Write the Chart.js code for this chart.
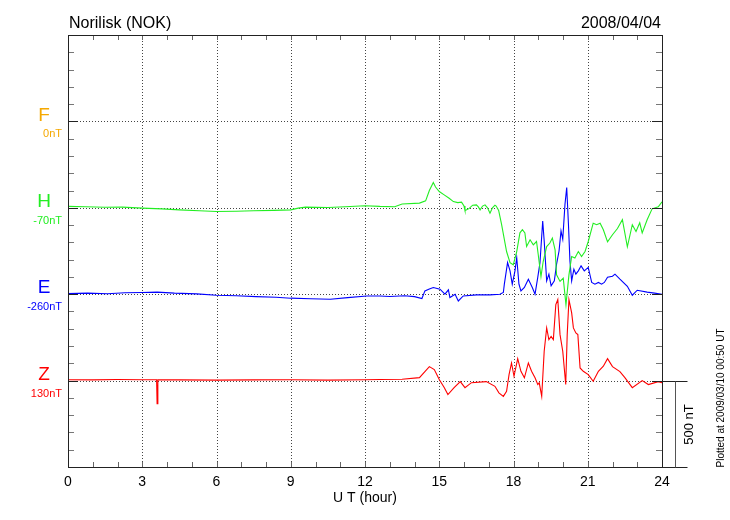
<!DOCTYPE html>
<html><head><meta charset="utf-8">
<script src="https://cdn.jsdelivr.net/npm/chart.js@4.4.0/dist/chart.umd.min.js"></script>
<style>html,body{margin:0;padding:0;background:#fff;}canvas{display:block;}</style>
</head><body>
<canvas id="c" width="730" height="520"></canvas>
<script>
// ---- text / categories ----
const station = 'Norilisk (NOK)';
const dateLabel = '2008/04/04';
const plottedNote = 'Plotted at 2009/03/10 00:50 UT';
const xTitle = 'U T (hour)';
const components = ['F', 'H', 'E', 'Z'];
const baseValues = ['0nT', '-70nT', '-260nT', '130nT'];
const xTickValues = [0, 3, 6, 9, 12, 15, 18, 21, 24];
const scaleBarNT = 500;

// ---- H component: hours, deviation from base (nT) ----
const tH = [0,0.7,1.5,2.2,3,3.8,4.5,5.3,6,6.8,7.5,8.3,9,9.3,9.6,10.5,11.2,12,12.6,13.2,13.5,14.2,14.45,14.6,14.76,14.85,15.0,15.2,15.4,15.57,15.75,15.9,16.0,16.04,16.2,16.35,16.5,16.58,16.65,16.75,16.85,16.95,17.05,17.15,17.25,17.3,17.4,17.52,17.72,17.86,17.99,18.13,18.26,18.36,18.46,18.53,18.67,18.8,18.93,19.0,19.11,19.2,19.34,19.47,19.57,19.68,19.74,19.88,20.01,20.12,20.24,20.35,20.48,20.62,20.75,20.89,21.02,21.22,21.36,21.5,21.63,21.8,22.0,22.2,22.4,22.6,22.8,22.95,23.1,23.2,23.4,23.6,23.85,24];
const vH = [8,6,3,4,-2,-6,-12,-17,-21,-20,-17,-15,-12,-2,4,2,6,12,8,6,22,27,40,100,146,120,94,75,55,36,30,33,10,-16,-5,15,17,5,-12,10,17,0,-31,0,15,10,-15,-98,-253,-318,-330,-253,-145,-127,-145,-224,-185,-214,-195,-272,-398,-311,-224,-204,-175,-243,-388,-426,-407,-561,-388,-282,-291,-253,-282,-253,-195,-89,-98,-89,-127,-197,-156,-120,-69,-226,-98,-137,-87,-145,-69,-6,6,35];

// ---- E component ----
const tE = [0,0.8,1.6,2.3,3,3.6,4.3,5.2,6,6.8,7.6,8.4,9,9.8,10.6,11.3,12.07,12.6,13.0,13.6,14.0,14.3,14.42,14.6,14.76,15.03,15.23,15.37,15.43,15.64,15.77,15.97,16.51,17.05,17.45,17.59,17.63,17.76,17.86,17.95,18.06,18.13,18.22,18.3,18.44,18.6,18.76,18.87,18.98,19.07,19.18,19.24,19.34,19.43,19.52,19.65,19.74,19.84,19.92,19.99,20.08,20.15,20.22,20.28,20.35,20.44,20.52,20.62,20.73,20.86,21.02,21.16,21.29,21.43,21.56,21.67,21.8,22.0,22.1,22.3,22.6,22.8,23.0,23.4,23.7,24];
const vE = [4,6,3,8,10,12,6,2,-6,-9,-14,-18,-23,-26,-29,-20,-10,-10,-13,-9,-14,-25,19,30,39,29,0,25,-19,0,-39,-10,-4,-4,0,10,58,183,135,58,135,212,58,19,39,87,39,0,97,183,424,308,77,116,48,77,174,250,366,318,521,617,405,193,77,145,116,135,164,135,155,68,58,68,58,68,98,104,116,87,46,-6,23,12,6,0];

// ---- Z component ----
const tZ = [0,1,2,3,3.58,3.6,3.63,4.5,6,7.5,9,10.5,12,12.6,13.5,14.2,14.6,14.8,15.0,15.2,15.35,15.6,15.85,16.04,16.3,16.9,17.25,17.41,17.59,17.72,17.82,17.92,18.02,18.17,18.3,18.44,18.6,18.73,18.87,18.98,19.04,19.14,19.24,19.34,19.43,19.52,19.61,19.71,19.79,19.88,19.99,20.11,20.17,20.24,20.35,20.42,20.52,20.6,20.69,20.82,21.02,21.22,21.43,21.63,21.8,22.0,22.3,22.5,22.8,23.2,23.45,23.85,24];
const vZ = [5,4,6,5,5,-133,5,4,3,4,5,3,5,6,8,17,81,64,6,-40,-81,-41,-6,-41,-12,-6,-33,-71,-91,-62,35,102,25,127,54,16,102,54,16,-23,-13,-91,170,305,237,256,237,440,469,266,170,-23,266,469,392,305,276,266,73,54,35,-4,54,83,127,81,52,17,-41,0,-23,-6,-12];

// ---- drawing constants ----
const OFFSET = {F: 2000, H: 1500, E: 1000, Z: 500};
const COLOR = {F: '#f5a800', H: '#22ee22', E: '#0000ff', Z: '#ff0000'};
const FONT = '"Liberation Sans", Arial, Helvetica, sans-serif';

function pts(t, v, off) { return t.map((x, i) => ({x: x, y: off + v[i]})); }

function seg(ctx, x1, y1, x2, y2) { ctx.beginPath(); ctx.moveTo(x1, y1); ctx.lineTo(x2, y2); ctx.stroke(); }

const deco = {
  id: 'deco',
  beforeDatasetsDraw(chart) {
    const {ctx, chartArea: a, scales: {x, y}} = chart;
    ctx.save();
    ctx.strokeStyle = '#444';
    ctx.lineWidth = 1;
    ctx.setLineDash([1, 2]);
    xTickValues.forEach(h => {
      if (h === 0 || h === 24) return;
      const px = Math.round(x.getPixelForValue(h)) + 0.5;
      seg(ctx, px, a.top, px, a.bottom);
    });
    components.forEach(c => {
      const py = Math.round(y.getPixelForValue(OFFSET[c])) + 0.5;
      seg(ctx, a.left, py, a.right, py);
    });
    ctx.restore();
  },
  afterDatasetsDraw(chart) {
    const {ctx, chartArea: a, scales: {x, y}} = chart;
    ctx.save();
    ctx.setLineDash([]);
    ctx.lineWidth = 1;
    ctx.strokeStyle = '#666';
    for (let h = 0; h <= 24; h++) {
      const px = Math.round(x.getPixelForValue(h)) + 0.5;
      seg(ctx, px, a.top, px, a.top + 5);
      seg(ctx, px, a.bottom, px, a.bottom - 5);
    }
    for (let v = 0; v <= 2500; v += 100) {
      const py = Math.round(y.getPixelForValue(v)) + 0.5;
      const major = (v % 500 === 0);
      ctx.strokeStyle = major ? '#222' : '#777';
      seg(ctx, a.left, py, a.left + (major ? 10 : 6), py);
      seg(ctx, a.right, py, a.right - (major ? 10 : 6), py);
    }
    ctx.strokeStyle = '#222';
    const L = Math.round(a.left) + 0.5, R = Math.round(a.right) + 0.5;
    const T = Math.round(a.top) + 0.5, B = Math.round(a.bottom) + 0.5;
    ctx.strokeRect(L, T, R - L, B - T);
    const yTop = Math.round(y.getPixelForValue(scaleBarNT)) + 0.5;
    const yBot = Math.round(y.getPixelForValue(0)) + 0.5;
    seg(ctx, R, yTop, R + 25, yTop);
    seg(ctx, R, yBot, R + 25, yBot);
    ctx.strokeStyle = '#555';
    seg(ctx, R + 13, yTop, R + 13, yBot);
    ctx.fillStyle = '#000';
    ctx.font = '13px ' + FONT;
    ctx.textAlign = 'center'; ctx.textBaseline = 'middle';
    ctx.save();
    ctx.translate(R + 27, (yTop + yBot) / 2);
    ctx.rotate(-Math.PI / 2);
    ctx.fillText(scaleBarNT + ' nT', 0, 0);
    ctx.restore();
    ctx.save();
    ctx.font = '10px ' + FONT;
    ctx.translate(721, 398);
    ctx.rotate(-Math.PI / 2);
    ctx.fillText(plottedNote, 0, 0);
    ctx.restore();
    components.forEach((c, i) => {
      const py = y.getPixelForValue(OFFSET[c]);
      ctx.fillStyle = COLOR[c];
      ctx.textAlign = 'center'; ctx.textBaseline = 'middle';
      ctx.font = '19px ' + FONT;
      ctx.fillText(c, 44, py - 6);
      ctx.textAlign = 'right';
      ctx.font = '11px ' + FONT;
      ctx.fillText(baseValues[i], 62, py + 13);
    });
    ctx.fillStyle = '#000';
    ctx.textBaseline = 'alphabetic';
    ctx.font = '16px ' + FONT;
    ctx.textAlign = 'left';
    ctx.fillText(station, 69, 28);
    ctx.textAlign = 'right';
    ctx.fillText(dateLabel, 661, 28);
    ctx.textAlign = 'center';
    ctx.font = '14px ' + FONT;
    ctx.fillText(xTitle, (a.left + a.right) / 2, 502);
    ctx.restore();
  }
};

const ds = (c, t, v) => ({
  label: c,
  data: pts(t, v, OFFSET[c]),
  borderColor: COLOR[c],
  borderWidth: 1.1,
  pointRadius: 0,
  tension: 0,
  fill: false
});

new Chart(document.getElementById('c'), {
  type: 'line',
  data: { datasets: [ds('H', tH, vH), ds('E', tE, vE), ds('Z', tZ, vZ)] },
  options: {
    responsive: false,
    animation: false,
    devicePixelRatio: 1,
    layout: { padding: { left: 68, right: 68, top: 35, bottom: 0 } },
    plugins: { legend: { display: false }, tooltip: { enabled: false } },
    scales: {
      x: {
        type: 'linear', min: 0, max: 24,
        afterBuildTicks: s => { s.ticks = xTickValues.map(v => ({value: v})); },
        afterFit: s => { s.height = 53; },
        grid: { display: false, drawTicks: false },
        border: { display: false },
        ticks: { padding: 7, color: '#000', font: { size: 14, family: FONT }, maxRotation: 0 }
      },
      y: { type: 'linear', min: 0, max: 2500, display: false }
    }
  },
  plugins: [deco]
});
</script>
</body></html>
